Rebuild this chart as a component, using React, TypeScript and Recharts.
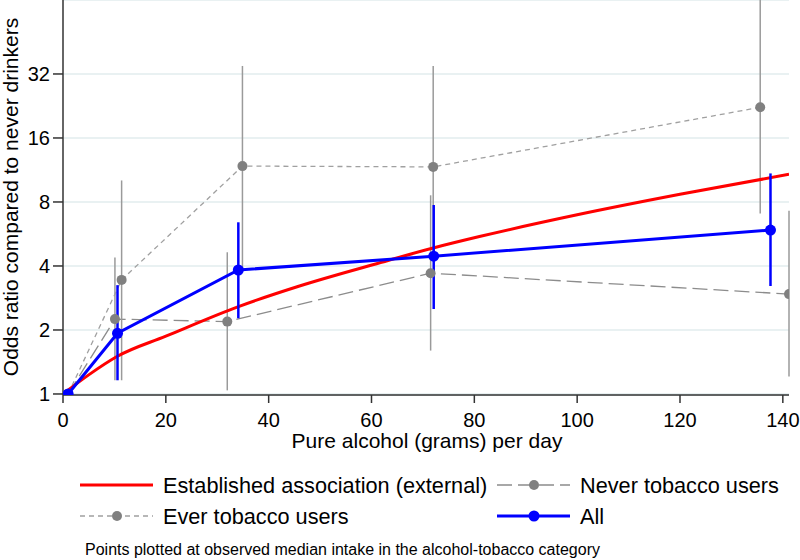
import React from 'react';
import { LineChart, Line, XAxis, YAxis, CartesianGrid, ErrorBar, Label } from 'recharts';

// ---- axis ticks ----
const xTicks = [0, 20, 40, 60, 80, 100, 120, 140];
const yTicks = [1, 2, 4, 8, 16, 32];

// ---- Established association (external) ----
const estX = [0, 5, 10.5, 20, 34, 46, 61.6, 72, 81, 100, 120, 141.2];
const estOR = [1.0, 1.23, 1.5, 1.87, 2.57, 3.22, 4.14, 4.86, 5.5, 6.96, 8.69, 10.8];

// ---- All ----
const allX = [1, 10.6, 34.1, 72.1, 137.6];
const allOR = [1, 1.93, 3.83, 4.45, 5.9];
const allLo = [1, 1.16, 2.27, 2.51, 3.22];
const allHi = [1, 3.25, 6.42, 7.74, 10.9];

// ---- Never tobacco users ----
const neverX = [1, 10.1, 31.95, 71.5, 141.2];
const neverOR = [1, 2.25, 2.19, 3.7, 2.95];
const neverLo = [1, 1.16, 1.04, 1.6, 1.21];
const neverHi = [1, 4.39, 4.64, 8.6, 7.27];

// ---- Ever tobacco users ----
const everX = [1, 11.4, 34.9, 72.0, 135.6];
const everOR = [1, 3.44, 11.8, 11.7, 22.3];
const everLo = [1, 1.16, 3.9, 4.3, 7.07];
const everHi = [1, 10.1, 34.9, 34.9, 90];

const build = (xs: number[], ors: number[], lo: number[], hi: number[]) =>
  xs.map((x, i) => ({ x, y: ors[i], err: [ors[i] - lo[i], hi[i] - ors[i]] }));

const estData = estX.map((x, i) => ({ x, y: estOR[i] }));
const allData = build(allX, allOR, allLo, allHi);
const neverData = build(neverX, neverOR, neverLo, neverHi);
const everData = build(everX, everOR, everLo, everHi);

const FONT = '"Liberation Sans", Arial, sans-serif';
const AXIS = '#333333';
const GRID = '#e2ecee';
const RED = '#ff0000';
const BLUE = '#0000ff';
const DOT_GRAY = '#808080';
const NEVER_GRAY = '#8c8c8c';
const EVER_GRAY = '#a0a0a0';
const BAR_GRAY = '#9a9a9a';

const YLabel = () => (
  <text
    x={18}
    y={197}
    transform="rotate(-90 18 197)"
    textAnchor="middle"
    fontSize={21}
    fontFamily={FONT}
    fill="#000"
  >
    Odds ratio compared to never drinkers
  </text>
);

const XLabel = () => (
  <text x={427} y={448} textAnchor="middle" fontSize={21} fontFamily={FONT} fill="#000">
    Pure alcohol (grams) per day
  </text>
);

const LegendBox = () => (
  <svg width={800} height={560} style={{ position: 'absolute', left: 0, top: 0, pointerEvents: 'none' }}>
    <g fontFamily={FONT} fontSize={21.7} fill="#000">
      <line x1={80} x2={153} y1={485} y2={485} stroke={RED} strokeWidth={3} />
      <text x={163} y={485} dy="0.35em">Established association (external)</text>

      <line x1={497} x2={570} y1={485} y2={485} stroke={NEVER_GRAY} strokeWidth={1.3} strokeDasharray="15 6" />
      <circle cx={534} cy={485} r={5} fill={DOT_GRAY} />
      <text x={580} y={485} dy="0.35em">Never tobacco users</text>

      <line x1={80} x2={153} y1={516} y2={516} stroke={EVER_GRAY} strokeWidth={1.3} strokeDasharray="5 4" />
      <circle cx={117} cy={516} r={5} fill={DOT_GRAY} />
      <text x={163} y={516} dy="0.35em">Ever tobacco users</text>

      <line x1={497} x2={570} y1={516} y2={516} stroke={BLUE} strokeWidth={3} />
      <circle cx={534} cy={516} r={5.5} fill={BLUE} />
      <text x={580} y={516} dy="0.35em">All</text>
    </g>
    <text x={85} y={549} dy="0.35em" fontFamily={FONT} fontSize={16} fill="#000">
      Points plotted at observed median intake in the alcohol-tobacco category
    </text>
  </svg>
);

export default function App() {
  return (
    <div style={{ position: 'absolute', left: 0, top: 0, width: 800, height: 560, background: '#fff' }}>
      <LineChart
        width={800}
        height={560}
        margin={{ top: 0, right: 11, bottom: 105, left: 0 }}
        style={{ fontFamily: FONT }}
      >
        <CartesianGrid horizontal vertical={false} stroke={GRID} strokeWidth={1.5} />
        <XAxis
          type="number"
          dataKey="x"
          domain={[0, 141.2]}
          ticks={xTicks}
          allowDataOverflow
          height={60}
          tickSize={8}
          tickMargin={10}
          axisLine={{ stroke: AXIS, strokeWidth: 1.5 }}
          tickLine={{ stroke: AXIS, strokeWidth: 1.5 }}
          tick={{ fontSize: 20, fill: '#000', fontFamily: FONT }}
        >
          <Label content={<XLabel />} />
        </XAxis>
        <YAxis
          type="number"
          scale="log"
          domain={[0.989, 71.3]}
          ticks={yTicks}
          allowDataOverflow
          width={63}
          tickSize={10}
          tickMargin={3}
          axisLine={{ stroke: AXIS, strokeWidth: 1.5 }}
          tickLine={{ stroke: AXIS, strokeWidth: 1.5 }}
          tick={{ fontSize: 20, fill: '#000', fontFamily: FONT }}
        >
          <Label content={<YLabel />} />
        </YAxis>

        <Line
          data={neverData}
          dataKey="y"
          type="linear"
          stroke={NEVER_GRAY}
          strokeWidth={1.3}
          strokeDasharray="15 6"
          dot={{ r: 5, fill: DOT_GRAY, stroke: 'none', strokeWidth: 0 }}
          isAnimationActive={false}
        >
          <ErrorBar dataKey="err" direction="y" width={0} stroke={BAR_GRAY} strokeWidth={1.5} isAnimationActive={false} />
        </Line>
        <Line
          data={everData}
          dataKey="y"
          type="linear"
          stroke={EVER_GRAY}
          strokeWidth={1.3}
          strokeDasharray="5 4"
          dot={{ r: 5, fill: DOT_GRAY, stroke: 'none', strokeWidth: 0 }}
          isAnimationActive={false}
        >
          <ErrorBar dataKey="err" direction="y" width={0} stroke={BAR_GRAY} strokeWidth={1.5} isAnimationActive={false} />
        </Line>
        <Line
          data={estData}
          dataKey="y"
          type="monotone"
          stroke={RED}
          strokeWidth={3}
          dot={false}
          activeDot={false}
          isAnimationActive={false}
        />
        <Line
          data={allData}
          dataKey="y"
          type="linear"
          stroke={BLUE}
          strokeWidth={3}
          dot={{ r: 5.5, fill: BLUE, stroke: 'none', strokeWidth: 0 }}
          isAnimationActive={false}
        >
          <ErrorBar dataKey="err" direction="y" width={0} stroke={BLUE} strokeWidth={2.5} isAnimationActive={false} />
        </Line>
      </LineChart>
      <LegendBox />
    </div>
  );
}
